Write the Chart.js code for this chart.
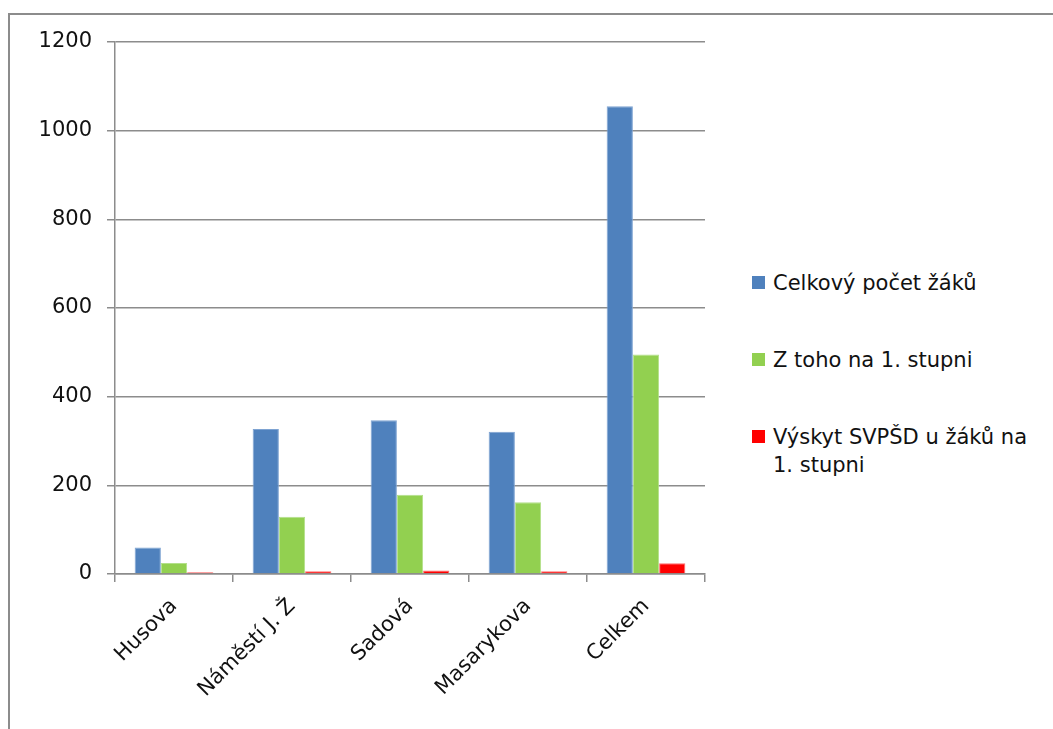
<!DOCTYPE html>
<html>
<head>
<meta charset="utf-8">
<script src="https://cdn.jsdelivr.net/npm/chart.js@4"></script>
<style>
  body { margin: 0; background: #fff; width: 1053px; height: 729px; overflow: hidden; position: relative; }
  #ramecek { position: absolute; left: 8px; top: 13px; width: 1060px; height: 730px;
             border-top: 2px solid #8c8c8c; border-left: 2px solid #8c8c8c; }
  #graf { position: absolute; left: 0; top: 0; }
  #legenda { position: absolute; left: 752px; top: 0; font-family: "DejaVu Sans", sans-serif;
             font-size: 21px; color: #111; line-height: 28px; }
  .polozka { position: absolute; left: 0; white-space: nowrap; }
  .ctverec { position: absolute; left: 0; top: 7px; width: 13px; height: 13px; }
  .text { position: absolute; left: 21px; top: 0; }
</style>
</head>
<body>
<div id="ramecek"></div>
<canvas id="graf" width="730" height="729"></canvas>
<div id="legenda"></div>
<script>
const skoly = ["Husova", "Náměstí J. Ž", "Sadová", "Masarykova", "Celkem"];
const celkemZaku = [60, 327, 347, 321, 1055];
const prvniStupen = [25, 129, 179, 162, 495];
const vyskytSVPSD = [4, 6, 8, 6, 24];
const nazvyRad = [["Celkový počet žáků"], ["Z toho na 1. stupni"], ["Výskyt SVPŠD u žáků na", "1. stupni"]];
const barvy = ["#4f81bd", "#92d050", "#ff0000"];
const okraje = ["#7ea3d2", "#b3e08a", "#ff6a6a"];
const osaY = [0, 200, 400, 600, 800, 1000, 1200];

const rady = [celkemZaku, prvniStupen, vyskytSVPSD];
const pismo = { family: "DejaVu Sans", size: 21 };
const seda = "#8c8c8c";

// legenda vpravo, zalamovaný text jako v Excelu
const legenda = document.getElementById("legenda");
const topy = [269, 346, 423];
nazvyRad.forEach((radky, i) => {
  const el = document.createElement("div");
  el.className = "polozka";
  el.style.top = topy[i] + "px";
  el.innerHTML = `<div class="ctverec" style="background:${barvy[i]}"></div><div class="text">${radky.join("<br>")}</div>`;
  legenda.appendChild(el);
});

new Chart(document.getElementById("graf").getContext("2d"), {
  type: "bar",
  data: {
    labels: skoly,
    datasets: rady.map((data, i) => ({
      label: nazvyRad[i].join(" "),
      data: data,
      backgroundColor: barvy[i],
      borderColor: okraje[i],
      borderWidth: 1,
      barPercentage: 1,
      categoryPercentage: 0.667
    }))
  },
  options: {
    responsive: false,
    animation: false,
    layout: { padding: { top: 42, right: 25, left: 0, bottom: 0 } },
    plugins: {
      legend: { display: false },
      tooltip: { enabled: false }
    },
    scales: {
      x: {
        afterFit: s => { s.height = 155; },
        grid: { offset: true, drawOnChartArea: false, drawTicks: true, tickLength: 8, color: seda, lineWidth: 1.5 },
        border: { color: seda, width: 1.5 },
        ticks: { color: "#111", font: pismo, maxRotation: 45, minRotation: 45, autoSkip: false, padding: 12 }
      },
      y: {
        min: 0,
        max: 1200,
        afterFit: s => { s.width = 115; },
        afterBuildTicks: s => { s.ticks = osaY.map(v => ({ value: v })); },
        grid: { color: seda, lineWidth: 1.5, tickLength: 8 },
        border: { color: seda, width: 1.5 },
        ticks: { color: "#111", font: pismo, padding: 15, callback: v => String(v) }
      }
    }
  }
});
</script>
</body>
</html>
